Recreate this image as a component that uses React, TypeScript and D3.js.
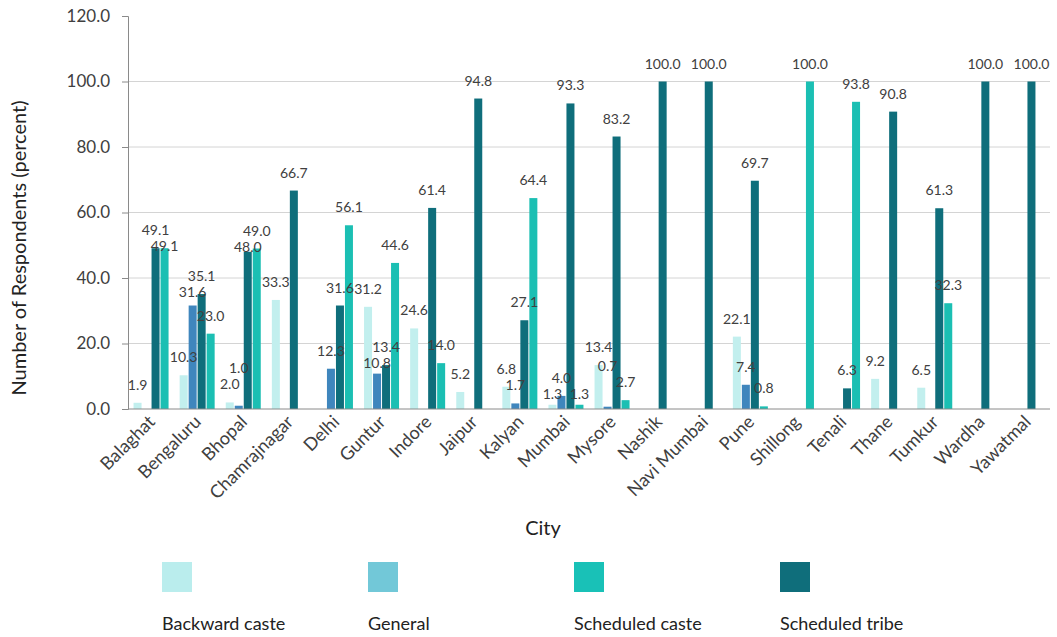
import { useEffect, useRef } from "react";
import * as d3 from "d3";

const cities = [
  "Balaghat", "Bengaluru", "Bhopal", "Chamrajnagar", "Delhi", "Guntur", "Indore",
  "Jaipur", "Kalyan", "Mumbai", "Mysore", "Nashik", "Navi Mumbai", "Pune",
  "Shillong", "Tenali", "Thane", "Tumkur", "Wardha", "Yawatmal",
];

// null = no respondents in that group (no bar, no label)
const backwardCaste = [1.9, 10.3, 2.0, 33.3, null, 31.2, 24.6, 5.2, 6.8, 1.3, 13.4, null, null, 22.1, null, null, 9.2, 6.5, null, null];
const general = [null, 31.6, 1.0, null, 12.3, 10.8, null, null, 1.7, 4.0, 0.7, null, null, 7.4, null, null, null, null, null, null];
const scheduledTribe = [49.1, 35.1, 48.0, 66.7, 31.6, 13.4, 61.4, 94.8, 27.1, 93.3, 83.2, 100.0, 100.0, 69.7, null, 6.3, 90.8, 61.3, 100.0, 100.0];
const scheduledCaste = [49.1, 23.0, 49.0, null, 56.1, 44.6, 14.0, null, 64.4, 1.3, 2.7, null, null, 0.8, 100.0, 93.8, null, 32.3, null, null];

const yTicks = [0, 20, 40, 60, 80, 100, 120];

const legendNames = ["Backward caste", "General", "Scheduled caste", "Scheduled tribe"];
const legendColors = ["#baeded", "#72c8d8", "#19c1b7", "#0f6e7b"];

// bar order inside a city group as drawn in the chart
const barSeries = [
  { key: "bc", values: backwardCaste, color: "#c2efee" },
  { key: "gen", values: general, color: "#3f86bd" },
  { key: "st", values: scheduledTribe, color: "#0f6e7b" },
  { key: "sc", values: scheduledCaste, color: "#1bbfb3" },
];

const font = "Lato, 'Open Sans', sans-serif";
const labelSize = 14;
const lineStep = 16;

export default function App() {
  const yAxisRef = useRef<SVGGElement>(null);

  const margin = { top: 16, left: 128, right: 1050, bottom: 409 };

  const x = d3.scaleBand().domain(cities).range([margin.left, margin.right]);
  const inner = d3
    .scaleBand()
    .domain(barSeries.map((s) => s.key))
    .range([0, 36]);
  const y = d3.scaleLinear().domain([0, 120]).range([margin.bottom, margin.top]);
  const bw = x.bandwidth();

  const barX = (key: string, i: number) =>
    (x(cities[i]) ?? 0) + (bw - 36) / 2 + (inner(key) ?? 0);

  useEffect(() => {
    if (yAxisRef.current) {
      const g = d3.select(yAxisRef.current);
      g.call(
        d3
          .axisLeft(y)
          .tickValues(yTicks)
          .tickSize(6)
          .tickPadding(12)
          .tickFormat((d) => d3.format(".1f")(d as number))
      );
      g.select(".domain").attr("stroke", "#8a8a8a");
      g.selectAll(".tick line").attr("stroke", "#8a8a8a");
      g.selectAll("text")
        .attr("font-family", font)
        .attr("font-size", 17)
        .attr("fill", "#404040");
    }
  }, []);

  // data labels: taller bars first, the next one slides down a line if it hits one
  const labels: { key: string; x: number; y: number; text: string }[] = [];
  cities.forEach((_, i) => {
    const items = barSeries
      .filter((s) => s.values[i] !== null)
      .map((s) => ({ key: s.key, v: s.values[i] as number }))
      .sort((a, b) => b.v - a.v);
    const placed: { x: number; y: number; w: number }[] = [];
    items.forEach(({ key, v }) => {
      const text = v.toFixed(1);
      const w = text.length * 7.2;
      const lx = barX(key, i) + inner.bandwidth() / 2;
      let ly = y(v) - 13;
      placed.forEach((p) => {
        if (Math.abs(p.x - lx) < (p.w + w) / 2 && Math.abs(p.y - ly) < lineStep) {
          ly = p.y + lineStep > y(0) - 6 ? p.y - lineStep : p.y + lineStep;
        }
      });
      placed.push({ x: lx, y: ly, w });
      labels.push({ key: `lab-${key}-${i}`, x: lx, y: ly, text });
    });
  });

  return (
    <svg
      width={1057}
      height={637}
      style={{ position: "absolute", left: 0, top: 0, background: "#fff" }}
    >
      {yTicks
        .filter((t) => t > 0 && t < 120)
        .map((t) => (
          <line
            key={`grid-${t}`}
            x1={margin.left}
            x2={margin.right}
            y1={y(t)}
            y2={y(t)}
            stroke="#d4d4d4"
          />
        ))}

      {barSeries.map((s) =>
        s.values.map((v, i) =>
          v === null ? null : (
            <rect
              key={`${s.key}-${i}`}
              x={barX(s.key, i) + 0.5}
              y={y(v)}
              width={inner.bandwidth() - 1}
              height={y(0) - y(v)}
              fill={s.color}
            />
          )
        )
      )}

      {labels.map((l) => (
        <text
          key={l.key}
          x={l.x}
          y={l.y}
          textAnchor="middle"
          fontFamily={font}
          fontSize={labelSize}
          fill="#404040"
        >
          {l.text}
        </text>
      ))}

      <line x1={margin.left} x2={margin.right} y1={y(0)} y2={y(0)} stroke="#8a8a8a" />
      <g ref={yAxisRef} transform={`translate(${margin.left},0)`} />

      {cities.map((c) => {
        const cx = (x(c) ?? 0) + bw / 2 + 5;
        const cy = y(0) + 14;
        return (
          <text
            key={`xl-${c}`}
            transform={`translate(${cx},${cy}) rotate(-45)`}
            textAnchor="end"
            fontFamily={font}
            fontSize={18}
            fill="#404040"
          >
            {c}
          </text>
        );
      })}

      <text
        transform="translate(26,248) rotate(-90)"
        textAnchor="middle"
        fontFamily={font}
        fontSize={20}
        fill="#222"
      >
        Number of Respondents (percent)
      </text>
      <text x={543} y={535} textAnchor="middle" fontFamily={font} fontSize={20} fill="#222">
        City
      </text>

      {legendNames.map((n, i) => (
        <g key={`lg-${n}`} transform={`translate(${162 + i * 206},0)`}>
          <rect x={0} y={562} width={30} height={30} fill={legendColors[i]} />
          <text x={0} y={630} fontFamily={font} fontSize={18} fill="#222">
            {n}
          </text>
        </g>
      ))}
    </svg>
  );
}
